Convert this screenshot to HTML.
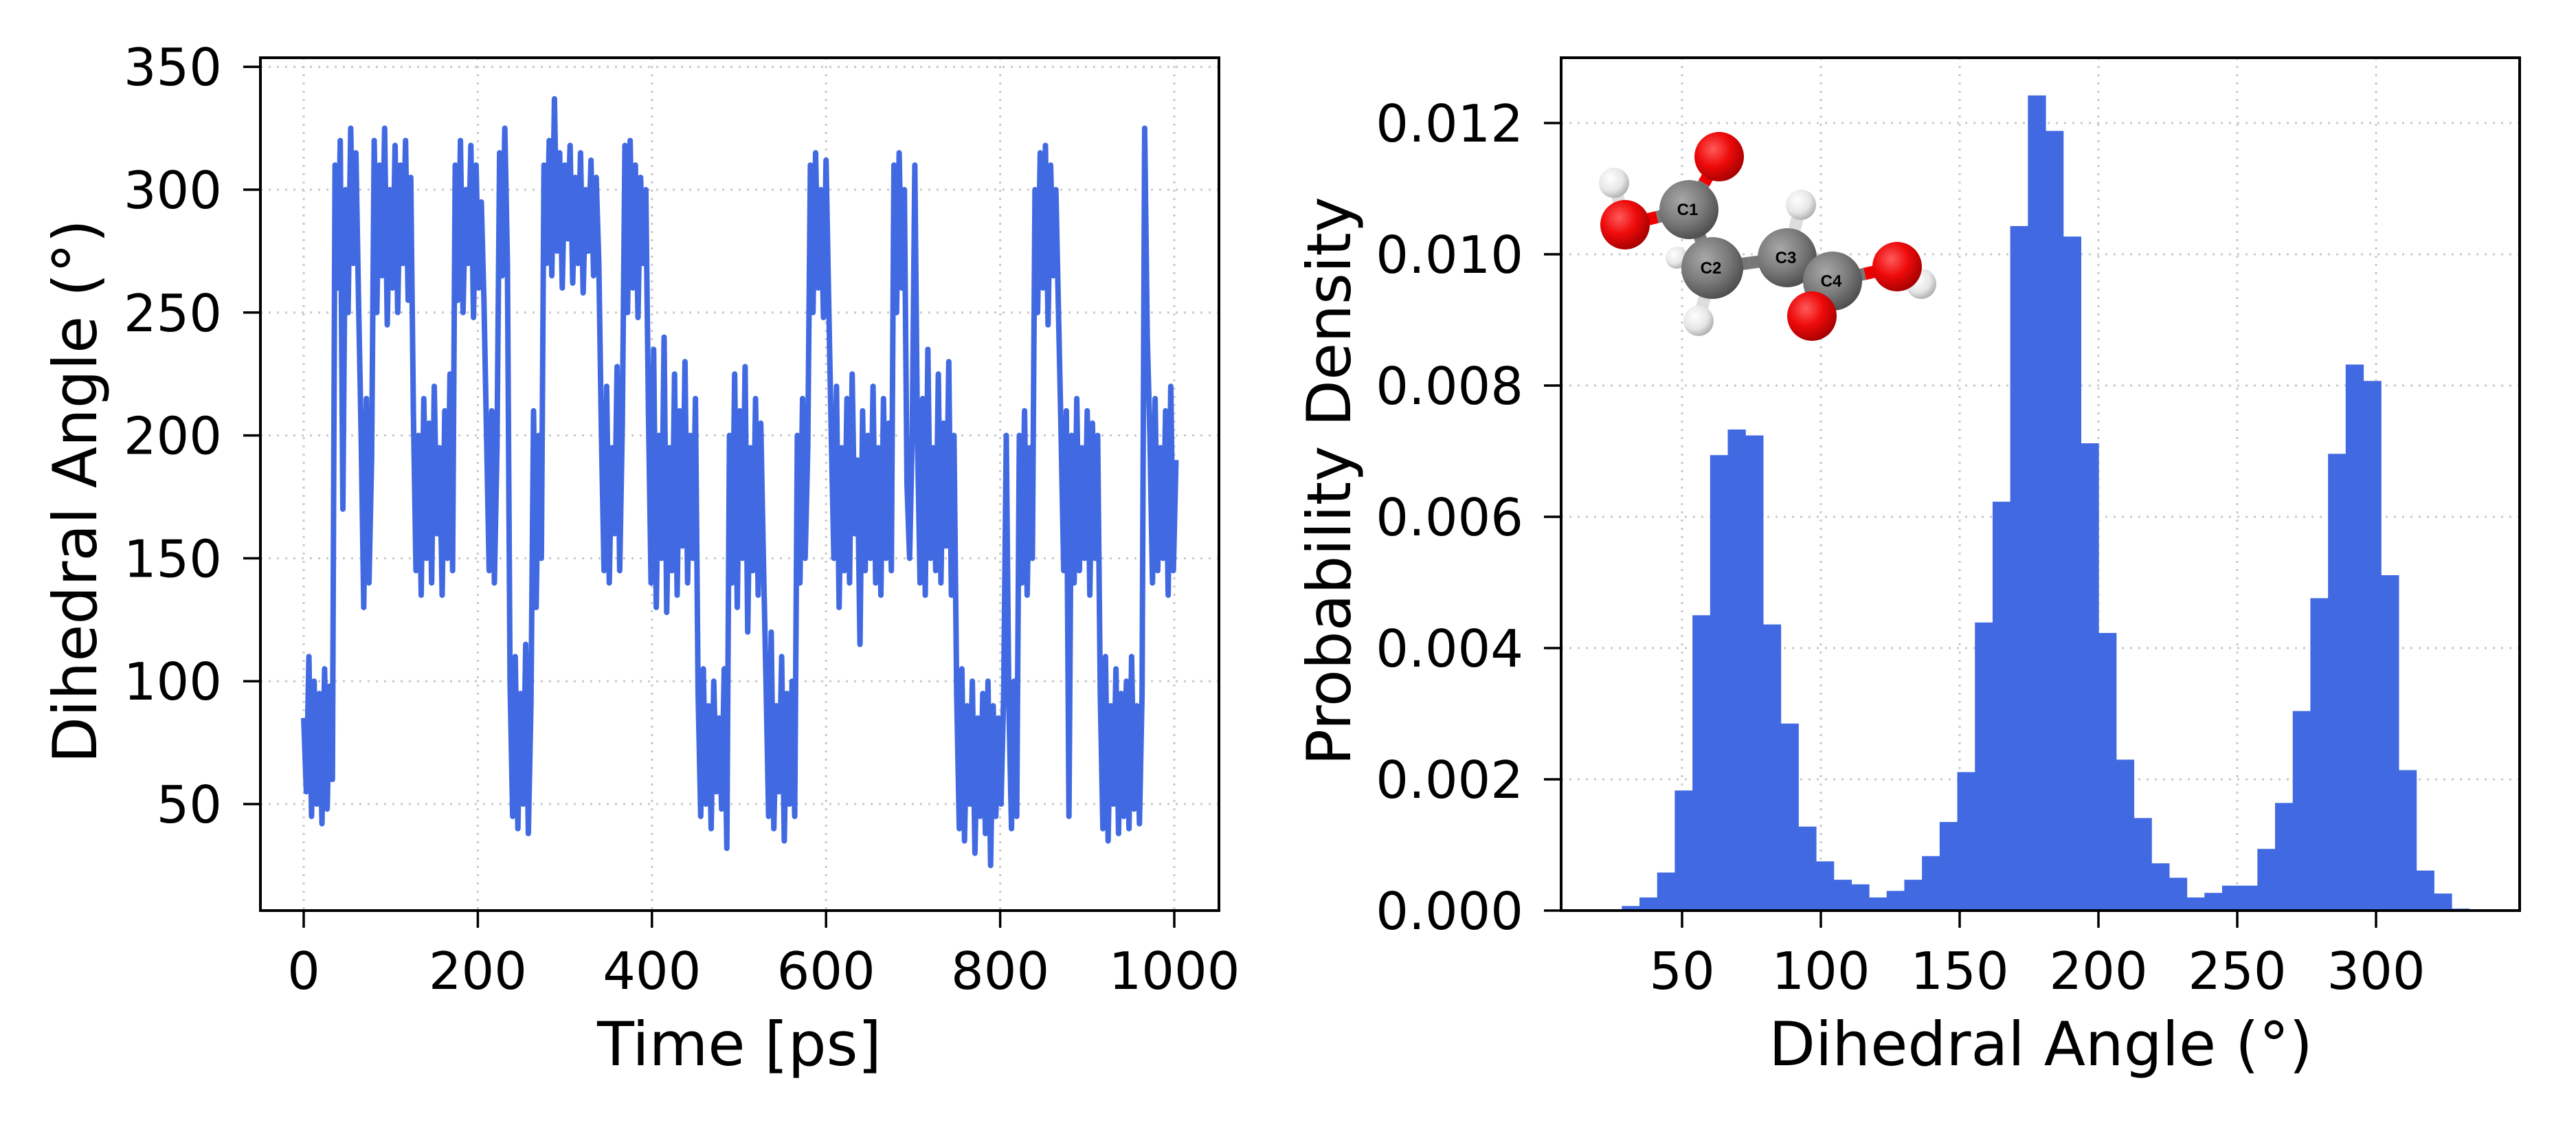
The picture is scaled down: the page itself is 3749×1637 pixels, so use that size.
<!DOCTYPE html>
<html><head><meta charset="utf-8"><style>
html,body{margin:0;padding:0;background:#fff;}
svg{display:block;font-family:"DejaVu Sans","Liberation Sans",sans-serif;}
</style></head><body>
<svg id="fig" width="3749" height="1637" viewBox="0 0 3749 1637" xmlns="http://www.w3.org/2000/svg">
<defs>
<radialGradient id="gO" cx="0.38" cy="0.35" r="0.7"><stop offset="0" stop-color="#ff5a5a"/><stop offset="0.5" stop-color="#ee0a0a"/><stop offset="1" stop-color="#a00000"/></radialGradient>
<radialGradient id="gC" cx="0.38" cy="0.35" r="0.7"><stop offset="0" stop-color="#a8a8a8"/><stop offset="0.55" stop-color="#7a7a7a"/><stop offset="1" stop-color="#4a4a4a"/></radialGradient>
<radialGradient id="gH" cx="0.38" cy="0.35" r="0.7"><stop offset="0" stop-color="#ffffff"/><stop offset="0.6" stop-color="#e6e6e6"/><stop offset="1" stop-color="#aaaaaa"/></radialGradient>
</defs>
<g id="left"></g>
<g id="right"></g>
</svg>
<script>
// ---- Left chart data (dihedral angle vs time, sampled every 3 ps) ----
const timeStep = 3;
const angleValues = [
85,55,110,45,100,50,95,42,105,48,98,60,
310,260,320,170,300,250,325,270,315,255,
200,130,215,140,190,
320,250,310,265,325,245,300,260,318,250,310,270,320,255,305,
210,145,200,135,215,150,205,140,220,160,195,135,210,150,225,145,
310,255,320,250,300,270,318,248,310,260,295,255,
200,145,210,140,195,
315,265,325,270,
100,45,110,40,95,50,115,38,90,
210,130,200,150,
310,270,320,265,337,275,315,260,310,280,318,262,305,270,315,258,300,275,312,265,305,270,
200,145,220,140,195,160,228,145,205,
318,250,320,260,310,248,305,270,300,
210,140,235,130,200,150,240,128,195,145,225,135,210,155,230,140,200,150,215,
95,45,105,50,90,40,100,55,85,48,105,32,
200,140,225,130,210,150,228,120,195,145,215,135,205,150,
100,45,120,40,90,55,110,35,95,50,100,45,
200,140,215,150,195,
310,250,315,260,300,248,312,255,
200,150,220,130,195,145,215,140,225,160,190,115,210,145,200,150,220,140,195,135,215,150,205,145,
310,250,315,260,300,
180,150,200,
310,
200,140,215,135,235,150,195,145,225,140,205,155,230,135,200,
95,40,105,35,90,50,100,30,85,45,95,38,100,25,90,45,85,50,95,
200,
90,40,100,45,
200,140,210,135,195,150,
300,250,315,260,318,245,310,265,300,250,
200,145,210,
45,
200,140,215,145,195,150,210,135,205,150,200,
95,40,110,35,90,50,105,38,95,45,100,40,110,48,90,42,95,
325,240,
200,140,215,145,195,150,210,135,220,145,190
];
const leftXTicks = [0,200,400,600,800,1000];
const leftYTicks = [50,100,150,200,250,300,350];

// ---- Right chart data (histogram, 48 bins) ----
const binStart = 28.3;
const binWidth = 6.36;
const densities = [0.00007,0.0002,0.00058,0.00183,0.0045,0.00694,0.00733,0.00724,0.00436,0.00285,
0.00128,0.00075,0.00047,0.0004,0.0002,0.0003,0.00047,0.00083,0.00135,0.00211,
0.00439,0.00623,0.01043,0.01242,0.01188,0.01027,0.00712,0.00423,0.0023,0.00141,
0.00072,0.0005,0.0002,0.00027,0.00038,0.00038,0.00094,0.00164,0.00304,0.00476,
0.00696,0.00832,0.00807,0.00511,0.00214,0.00061,0.00026,0.00003];
const rightXTicks = [50,100,150,200,250,300];
const rightYTicks = [0,0.002,0.004,0.006,0.008,0.010,0.012];
const rightYLabels = ["0.000","0.002","0.004","0.006","0.008","0.010","0.012"];

const NS="http://www.w3.org/2000/svg";
function mk(parent,tag,attrs,text){const e=document.createElementNS(NS,tag);for(const k in attrs)e.setAttribute(k,attrs[k]);if(text!==undefined)e.textContent=text;parent.appendChild(e);return e;}

// Left axes
const L={x0:379,x1:1774,y0:84,y1:1325};
const lx=t=>442+1.267*t;
const ly=v=>1170-(v-50)*3.576;
const left=document.getElementById('left');
leftXTicks.forEach(t=>{
  const g=mk(left,'line',{x1:lx(t),x2:lx(t),y1:L.y0,y2:L.y1,stroke:'#c8c8c8','stroke-width':3,'stroke-dasharray':'3 9'});
  
  
  const tk=mk(left,'line',{x1:lx(t),x2:lx(t),y1:L.y1,y2:L.y1+25,stroke:'#000','stroke-width':3.5});
  
  
  const tx=mk(left,'text',{x:lx(t),y:1439,'font-size':75,'text-anchor':'middle'},String(t));
  
  
});
leftYTicks.forEach(v=>{
  const g=mk(left,'line',{x1:L.x0,x2:L.x1,y1:ly(v),y2:ly(v),stroke:'#c8c8c8','stroke-width':3,'stroke-dasharray':'3 9'});
  
  
  const tk=mk(left,'line',{x1:L.x0-25,x2:L.x0,y1:ly(v),y2:ly(v),stroke:'#000','stroke-width':3.5});
  
  
  const tx=mk(left,'text',{x:323,y:ly(v)+27,'font-size':75,'text-anchor':'end'},String(v));
  
  
});
const pts=angleValues.map((v,i)=>lx(i*timeStep).toFixed(1)+','+ly(v).toFixed(1)).join(' ');
const line=mk(left,'polyline',{points:pts,fill:'none',stroke:'#4169E1','stroke-width':8,'stroke-linejoin':'round'});


const lf=mk(left,'rect',{x:L.x0,y:L.y0,width:L.x1-L.x0,height:L.y1-L.y0,fill:'none',stroke:'#000','stroke-width':4});


const lxl=mk(left,'text',{x:1076,y:1550,'font-size':88,'text-anchor':'middle'},'Time [ps]');


const lyl=mk(left,'text',{x:0,y:0,'font-size':88,'text-anchor':'middle',transform:'translate(140,715) rotate(-90)'},'Dihedral Angle (°)');



// Right axes
const R={x0:2272,x1:3667,y0:84,y1:1325};
const rx=a=>2448+(a-50)*4.04;
const ry=p=>1325-p*95500;
const right=document.getElementById('right');
rightXTicks.forEach(a=>{
  const g=mk(right,'line',{x1:rx(a),x2:rx(a),y1:R.y0,y2:R.y1,stroke:'#c8c8c8','stroke-width':3,'stroke-dasharray':'3 9'});
  
  
  const tk=mk(right,'line',{x1:rx(a),x2:rx(a),y1:R.y1,y2:R.y1+25,stroke:'#000','stroke-width':3.5});
  
  
  const tx=mk(right,'text',{x:rx(a),y:1439,'font-size':75,'text-anchor':'middle'},String(a));
  
  
});
rightYTicks.forEach((p,i)=>{
  if(i>0){const g=mk(right,'line',{x1:R.x0,x2:R.x1,y1:ry(p),y2:ry(p),stroke:'#c8c8c8','stroke-width':3,'stroke-dasharray':'3 9'});
  
  }
  const tk=mk(right,'line',{x1:R.x0-25,x2:R.x0,y1:ry(p),y2:ry(p),stroke:'#000','stroke-width':3.5});
  
  
  const tx=mk(right,'text',{x:2217,y:ry(p)+27,'font-size':75,'text-anchor':'end'},rightYLabels[i]);
  
  
});
densities.forEach((d,i)=>{
  const a0=binStart+i*binWidth, a1=a0+binWidth;
  const r=mk(right,'rect',{x:rx(a0),y:ry(d),width:rx(a1)-rx(a0)+0.6,height:ry(0)-ry(d),fill:'#4169E1'});
  
  
});
const rf=mk(right,'rect',{x:R.x0,y:R.y0,width:R.x1-R.x0,height:R.y1-R.y0,fill:'none',stroke:'#000','stroke-width':4});


const rxl=mk(right,'text',{x:2970,y:1550,'font-size':88,'text-anchor':'middle'},'Dihedral Angle (°)');


const ryl=mk(right,'text',{x:0,y:0,'font-size':88,'text-anchor':'middle',transform:'translate(1965,700) rotate(-90)'},'Probability Density');



// Molecule inset
const mol=mk(right,'g',{});


const A={O1:[2502,228,36,'O'],H1:[2349,266,22,'H'],O2:[2365,327,36,'O'],C1:[2458,305,43,'C'],C2:[2492,390,45,'C'],
H2:[2440,375,16,'H'],H3:[2472,467,22,'H'],C3:[2601,375,43,'C'],H4:[2621,298,22,'H'],C4:[2667,409,43,'C'],
O3:[2637,460,36,'O'],O4:[2761,388,36,'O'],H5:[2796,413,22,'H']};
const bonds=[['C1','O1'],['C1','O2'],['O2','H1'],['C1','C2'],['C2','H2'],['C2','H3'],['C2','C3'],['C3','H4'],['C3','C4'],['C4','O3'],['C4','O4'],['O4','H5']];
bonds.forEach(b=>{const p=A[b[0]],q=A[b[1]];
  const mx=(p[0]+q[0])/2,my=(p[1]+q[1])/2;
  const c1=p[3]==='O'?'#e00':(p[3]==='H'?'#ddd':'#777');
  const c2=q[3]==='O'?'#e00':(q[3]==='H'?'#ddd':'#777');
  const s1=mk(mol,'line',{x1:p[0],y1:p[1],x2:mx,y2:my,stroke:c1,'stroke-width':18});
  
  
  const s2=mk(mol,'line',{x1:mx,y1:my,x2:q[0],y2:q[1],stroke:c2,'stroke-width':18});
  
  
});
const order=['H2','H1','O2','H3','C2','C1','O1','H4','C3','H5','O4','C4','O3'];
const labels={C1:'C1',C2:'C2',C3:'C3',C4:'C4'};
order.forEach(k=>{const a=A[k];
  const c=mk(mol,'circle',{cx:a[0],cy:a[1],r:a[2],fill:a[3]==='O'?'url(#gO)':(a[3]==='H'?'url(#gH)':'url(#gC)')});
  
  
  if(labels[k]){const t=mk(mol,'text',{x:a[0]-2,y:a[1]+8,'font-size':24,'font-weight':'bold','text-anchor':'middle',fill:'#000','font-family':'Liberation Sans, sans-serif'},labels[k]);
    
    }
});
</script>
</body></html>
